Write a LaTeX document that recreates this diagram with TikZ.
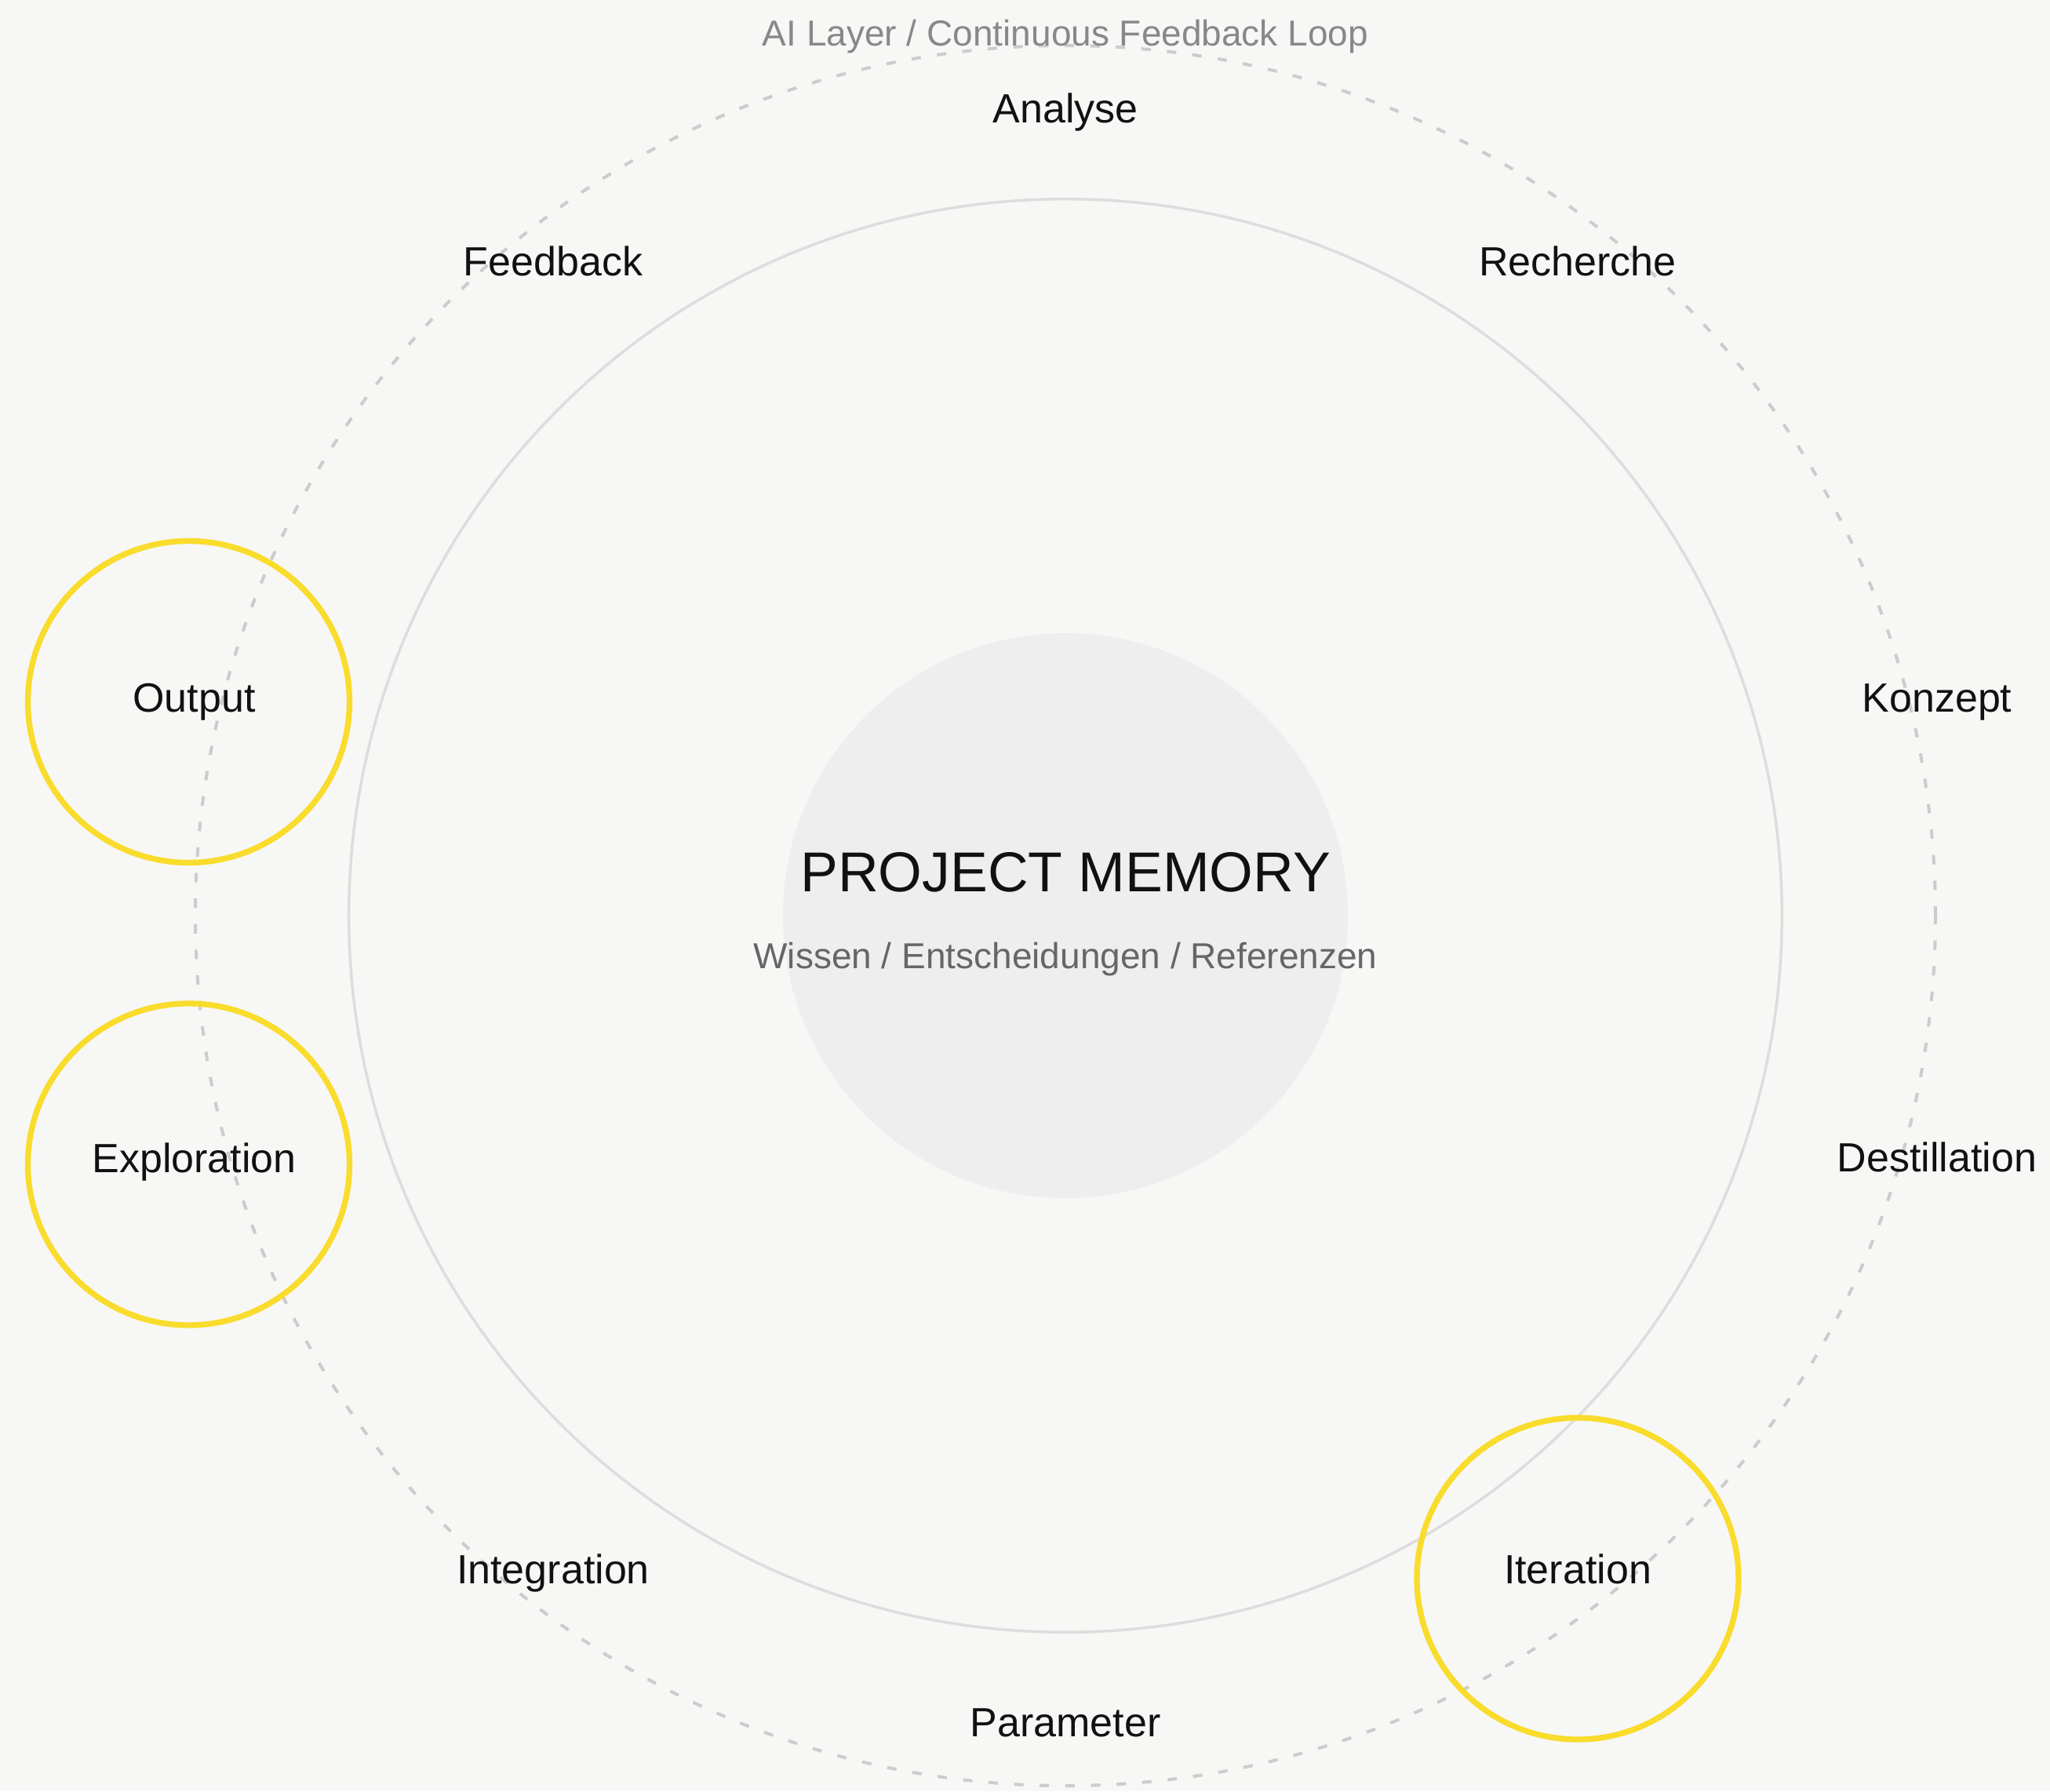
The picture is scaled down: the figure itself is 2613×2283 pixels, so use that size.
\documentclass[tikz,border=0pt]{standalone}
\usepackage{fontspec}
\setmainfont{Liberation Sans}
\definecolor{bg}{HTML}{F7F7F5}
\definecolor{orbitc}{HTML}{CCCCCC}
\definecolor{ringc}{HTML}{DDDDDD}
\definecolor{corec}{HTML}{EEEEEE}
\definecolor{accent}{HTML}{F9DC2C}
\definecolor{titlegray}{HTML}{888888}
\definecolor{subgray}{HTML}{666666}
\definecolor{ink}{HTML}{111111}
\begin{document}
\begin{tikzpicture}[x=0.3pt,y=-0.3pt,
  lbl/.style={anchor=base, inner sep=0pt, text=ink, font=\fontsize{15.6pt}{18pt}\selectfont},
  yring/.style={circle, draw=accent, line width=2.2pt, minimum size=123pt, inner sep=0pt},
  orbitstyle/.style={circle, draw=orbitc, dash pattern=on 3.6pt off 6.2pt, line width=1.2pt, minimum size=665.4pt, inner sep=0pt},
  ringstyle/.style={circle, draw=ringc, line width=1.05pt, minimum size=548pt, inner sep=0pt},
  corestyle/.style={circle, fill=corec, minimum size=216pt, inner sep=0pt}]
\fill[bg] (0,0) rectangle (2613,2283);
\useasboundingbox (0,0) rectangle (2613,2283);
% circles
\node[orbitstyle] (orbit) at (1358,1167) {};
\node[ringstyle] (ring) at (1358,1167) {};
\node[corestyle] (core) at (1358,1167) {};
\node[yring] (youtput) at (240.5,894.5) {};
\node[yring] (yexplor) at (240.5,1484) {};
\node[yring] (yiter) at (2011,2012) {};
% title
\node[anchor=base, inner sep=0pt, text=titlegray, font=\fontsize{13.8pt}{16pt}\selectfont] (title) at (1358,58) {AI Layer / Continuous Feedback Loop};
% center texts
\node[anchor=base, inner sep=0pt, text=ink, font=\fontsize{21.5pt}{24pt}\selectfont] (pm) at (1358,1136) {PROJECT MEMORY};
\node[anchor=base, inner sep=0pt, text=subgray, font=\fontsize{13.8pt}{16pt}\selectfont] (pmsub) at (1358,1234) {Wissen / Entscheidungen / Referenzen};
% labels
\node[lbl] (analyse) at (1358,156) {Analyse};
\node[lbl] (recherche) at (2011,351) {Recherche};
\node[lbl] (konzept) at (2469,907) {Konzept};
\node[lbl] (destill) at (2469,1493) {Destillation};
\node[lbl] (iteration) at (2011,2018) {Iteration};
\node[lbl] (parameter) at (1358,2213) {Parameter};
\node[lbl] (integration) at (705,2018) {Integration};
\node[lbl] (exploration) at (247.5,1494) {Exploration};
\node[lbl] (output) at (247.5,907) {Output};
\node[lbl] (feedback) at (705,351) {Feedback};
\end{tikzpicture}
\end{document}
